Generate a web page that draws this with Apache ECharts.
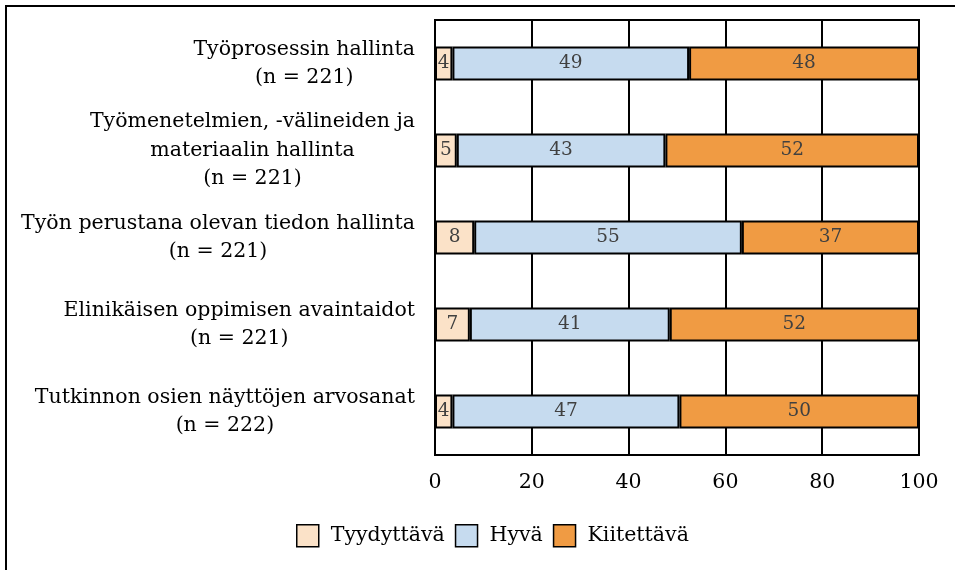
<!DOCTYPE html>
<html>
<head>
<meta charset="utf-8">
<script src="https://cdn.jsdelivr.net/npm/echarts@6/dist/echarts.min.js"></script>
<style>html,body{margin:0;padding:0;background:#fff}#c{width:955px;height:570px}</style>
</head>
<body>
<div id="c"></div>
<script>
const categories = [
  "Työprosessin hallinta\n(n = 221)",
  "Työmenetelmien, -välineiden ja\nmateriaalin hallinta\n(n = 221)",
  "Työn perustana olevan tiedon hallinta\n(n = 221)",
  "Elinikäisen oppimisen avaintaidot\n(n = 221)",
  "Tutkinnon osien näyttöjen arvosanat\n(n = 222)"
];
const seriesNames = ["Tyydyttävä", "Hyvä", "Kiitettävä"];
const tyydyttava = [3.6, 4.5, 8.1, 7.2, 3.6];
const hyva = [48.9, 43.1, 55.3, 41.3, 46.9];
const kiitettava = [47.5, 52.4, 36.6, 51.5, 49.5];
const xTicks = [0, 20, 40, 60, 80, 100];

const colors = ["#FBE2C8", "#C6DBEF", "#F09B43"];
const FONT = "DejaVu Serif";
const values = [tyydyttava, hyva, kiitettava];

const chart = echarts.init(document.getElementById('c'), null, {renderer: 'canvas'});
chart.setOption({
  animation: false,
  backgroundColor: '#fff',
  textStyle: {fontFamily: FONT},
  graphic: [{
    type: 'rect', z: 100, silent: true,
    shape: {x: 6, y: 6, width: 2000, height: 2000},
    style: {fill: 'none', stroke: '#000', lineWidth: 2}
  }],
  grid: {left: 435, right: 36, top: 20, bottom: 115, show: true, borderColor: '#000', borderWidth: 2, backgroundColor: '#fff'},
  legend: {
    left: 296, top: 524, padding: 0,
    itemWidth: 22, itemHeight: 22, itemGap: 10,
    icon: 'rect',
    data: seriesNames,
    itemStyle: {borderColor: '#000', borderWidth: 1.5},
    textStyle: {fontFamily: FONT, fontSize: 20.5, color: '#000', padding: [0, 0, 0, 7]}
  },
  xAxis: {
    type: 'value', min: xTicks[0], max: xTicks[xTicks.length - 1], interval: 20,
    axisLine: {show: false}, axisTick: {show: false},
    splitLine: {show: true, lineStyle: {color: '#000', width: 2}},
    axisLabel: {fontFamily: FONT, fontSize: 20.5, color: '#000', margin: 17}
  },
  yAxis: {
    type: 'category', inverse: true, data: categories,
    axisLine: {show: true, lineStyle: {color: '#000', width: 2}},
    axisTick: {show: false},
    axisLabel: {
      margin: 20, align: 'right',
      formatter: v => v.split('\n').map(l => '{c|' + l + '}').join('\n'),
      rich: {c: {align: 'center', fontFamily: FONT, fontSize: 20.5, lineHeight: 28.5, color: '#000'}}
    }
  },
  series: seriesNames.map((n, i) => ({
    name: n, type: 'bar', stack: 'total', data: values[i],
    barCategoryGap: '61%',
    itemStyle: {color: colors[i], borderColor: '#000', borderWidth: 2},
    label: {
      show: true, position: 'inside', fontFamily: FONT, fontSize: 18.5, color: '#404040',
      formatter: p => Math.round(p.value)
    }
  }))
});
</script>
</body>
</html>
